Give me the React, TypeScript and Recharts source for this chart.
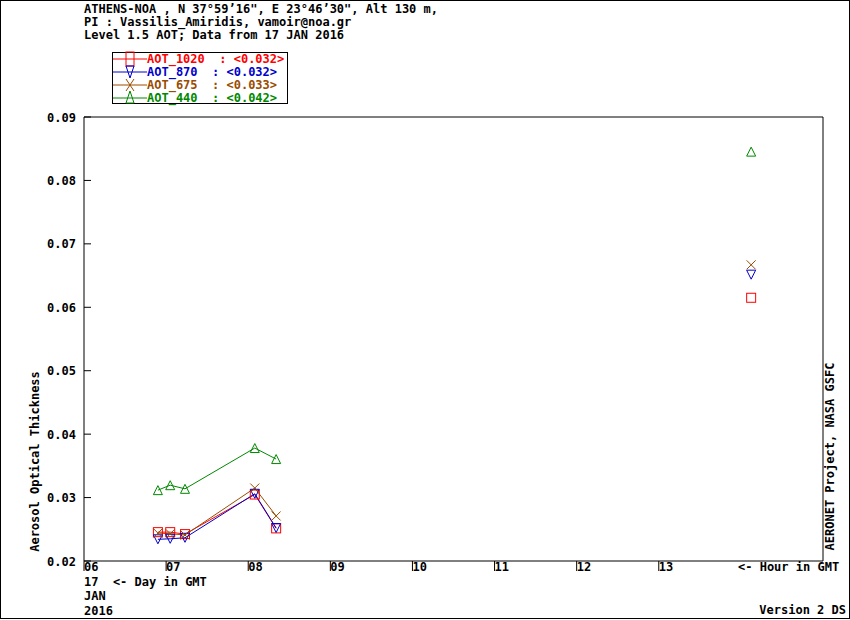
import React from 'react';
import { LineChart, Line, XAxis, YAxis, ReferenceLine } from 'recharts';

// AERONET ATHENS-NOA, 17 JAN 2016, Level 1.5 AOT
const hours = [6.9, 7.05, 7.23, 8.08, 8.34, 14.125];
const aot1020 = [0.02455, 0.02455, 0.02424, 0.03048, 0.02514, 0.0615];
const aot870 = [0.02342, 0.0235, 0.02366, 0.0306, 0.0252, 0.06514];
const aot675 = [0.0244, 0.0243, 0.0241, 0.0315, 0.0271, 0.06669];
const aot440 = [0.03117, 0.03195, 0.03138, 0.03781, 0.03607, 0.08454];

const xTicks = [6, 7, 8, 9, 10, 11, 12, 13];
const yTicks = [0.02, 0.03, 0.04, 0.05, 0.06, 0.07, 0.08, 0.09];

const headerLines = [
  'ATHENS-NOA , N 37\u00b059\u201916", E 23\u00b046\u201930", Alt 130 m,',
  'PI : Vassilis_Amiridis, vamoir@noa.gr',
  'Level 1.5 AOT; Data from 17 JAN 2016',
];
const legendNames = ['AOT_1020', 'AOT_870', 'AOT_675', 'AOT_440'];
const legendMeans = ['0.032', '0.032', '0.033', '0.042'];

const RED = '#ff0000';
const BLUE = '#0000cc';
const BROWN = '#9a4c00';
const GREEN = '#008800';
const FONT = '"DejaVu Sans Mono", monospace';

const series = [
  { key: 'a1020', values: aot1020, color: RED, shape: 'square' },
  { key: 'a870', values: aot870, color: BLUE, shape: 'down' },
  { key: 'a675', values: aot675, color: BROWN, shape: 'cross' },
  { key: 'a440', values: aot440, color: GREEN, shape: 'up' },
];

// break the line where measurements are more than an hour apart
const data: any[] = [];
hours.forEach((h, i) => {
  if (i > 0 && h - hours[i - 1] > 1) {
    data.push({ hour: (h + hours[i - 1]) / 2 });
  }
  const row: any = { hour: h };
  series.forEach((s) => (row[s.key] = s.values[i]));
  data.push(row);
});

function Marker({ cx, cy, shape, color, w = 9, h = 9 }: any) {
  const hw = w / 2;
  const hh = h / 2;
  if (shape === 'square') {
    return <rect x={cx - hw} y={cy - hh} width={w} height={h} fill="none" stroke={color} strokeWidth={1} />;
  }
  if (shape === 'down') {
    return <polygon points={`${cx - hw},${cy - hh} ${cx + hw},${cy - hh} ${cx},${cy + hh}`} fill="none" stroke={color} strokeWidth={1} />;
  }
  if (shape === 'up') {
    return <polygon points={`${cx - hw},${cy + hh} ${cx + hw},${cy + hh} ${cx},${cy - hh}`} fill="none" stroke={color} strokeWidth={1} />;
  }
  return (
    <g stroke={color} strokeWidth={1}>
      <line x1={cx - hw} y1={cy - hh} x2={cx + hw} y2={cy + hh} />
      <line x1={cx - hw} y1={cy + hh} x2={cx + hw} y2={cy - hh} />
    </g>
  );
}

const makeDot = (shape: string, color: string) => (p: any) => {
  if (p.cx == null || p.cy == null || p.value == null) return <g key={`e${p.index}`} />;
  return <Marker key={`d${p.index}`} cx={p.cx} cy={p.cy} shape={shape} color={color} />;
};

const XTick = ({ x, y, payload }: any) => (
  <g>
    <line x1={x} y1={y} x2={x} y2={y + 10} stroke="#000" />
    <text x={x} y={y + 10} fontFamily={FONT} fontSize={12} fontWeight="bold" fill="#000">
      {String(payload.value).padStart(2, '0')}
    </text>
  </g>
);

const YTick = ({ x, y, payload }: any) => (
  <g>
    <line x1={x} y1={y} x2={x + 7} y2={y} stroke="#000" />
    <text x={x - 8} y={y + 4.5} textAnchor="end" fontFamily={FONT} fontSize={12} fontWeight="bold" fill="#000">
      {payload.value.toFixed(2)}
    </text>
  </g>
);

const txt = { fontFamily: FONT, fontSize: 12, fontWeight: 'bold' as const, whiteSpace: 'pre' as const };

function Overlay() {
  const rowY = [59, 72, 85, 98];
  const markerBox = [
    [52, 66],
    [66, 78],
    [79, 91],
    [91, 103],
  ];
  return (
    <svg width={850} height={620} style={{ position: 'absolute', left: 0, top: 0, pointerEvents: 'none' }}>
      <rect x={0.5} y={0.5} width={849} height={618} fill="none" stroke="#000" />
      {headerLines.map((t, i) => (
        <text key={i} x={84} y={12.5 + i * 13.3} style={txt} fill="#000">
          {t}
        </text>
      ))}
      <rect x={112.5} y={52.5} width={175} height={51} fill="#fff" stroke="#000" />
      {series.map((s, i) => (
        <g key={s.key}>
          <line x1={113} y1={rowY[i]} x2={147} y2={rowY[i]} stroke={s.color} />
          <Marker
            cx={130}
            cy={(markerBox[i][0] + markerBox[i][1]) / 2}
            w={8}
            h={markerBox[i][1] - markerBox[i][0]}
            shape={s.shape}
            color={s.color}
          />
          <text x={147} y={rowY[i] + 4} style={txt} fill={s.color}>
            {`${legendNames[i]}  : <${legendMeans[i]}>`}
          </text>
        </g>
      ))}
      <text x={738} y={571} style={txt} fill="#000">{'<- Hour in GMT'}</text>
      <text x={84} y={586} style={txt} fill="#000">{'17  <- Day in GMT'}</text>
      <text x={84} y={600} style={txt} fill="#000">JAN</text>
      <text x={84} y={615} style={txt} fill="#000">2016</text>
      <text x={846} y={614} textAnchor="end" style={txt} fill="#000">Version 2 DS</text>
      <text x={39} y={461.5} textAnchor="middle" transform="rotate(-90 39 461.5)" style={txt} fill="#000">
        Aerosol Optical Thickness
      </text>
      <text x={834} y={456.5} textAnchor="middle" transform="rotate(-90 834 456.5)" style={txt} fill="#000">
        AERONET Project, NASA GSFC
      </text>
    </svg>
  );
}

export default function App() {
  return (
    <div style={{ position: 'relative', width: 850, height: 620, background: '#fff' }}>
      <style>{'body{margin:0}'}</style>
      <LineChart width={850} height={620} data={data} margin={{ top: 117, right: 0, bottom: 0, left: 0 }}>
        <XAxis
          dataKey="hour"
          type="number"
          domain={[6, 15]}
          ticks={xTicks}
          interval={0}
          height={59}
          allowDataOverflow
          axisLine={{ stroke: '#000' }}
          tickLine={false}
          tickSize={0}
          tickMargin={0}
          tick={<XTick />}
        />
        <YAxis
          type="number"
          domain={[0.02, 0.09]}
          ticks={yTicks}
          interval={0}
          width={84}
          allowDataOverflow
          axisLine={{ stroke: '#000' }}
          tickLine={false}
          tickSize={0}
          tickMargin={0}
          tick={<YTick />}
        />
        <YAxis yAxisId="right" orientation="right" type="number" domain={[0, 1]} width={27} tick={false} tickLine={false} axisLine={{ stroke: '#000' }} />
        <ReferenceLine y={0.09} stroke="#000" strokeWidth={1} ifOverflow="visible" />
        {series.map((s) => (
          <Line
            key={s.key}
            dataKey={s.key}
            type="linear"
            stroke={s.color}
            strokeWidth={1}
            dot={makeDot(s.shape, s.color)}
            activeDot={false}
            connectNulls={false}
            isAnimationActive={false}
          />
        ))}
      </LineChart>
      <Overlay />
    </div>
  );
}
